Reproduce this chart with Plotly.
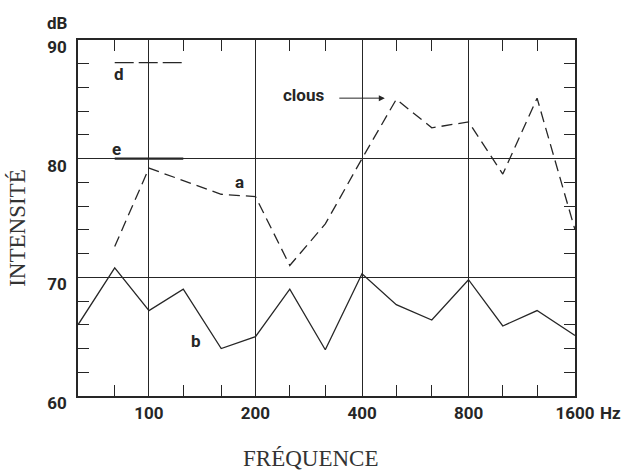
import math
import plotly.graph_objects as go

# third-octave band centre frequencies (Hz)
freq = [63, 80, 100, 125, 160, 200, 250, 315, 400, 500, 630, 800, 1000, 1250, 1600]
# curve b (solid)
curve_b = [66.0, 70.8, 67.2, 69.0, 64.0, 65.0, 69.0, 63.9, 70.3, 67.7, 66.4, 69.8, 65.9, 67.2, 65.1]
# curve a (dashed) starts at 80 Hz
freq_a = [80, 100, 160, 200, 250, 315, 400, 500, 630, 800, 1000, 1250, 1600]
curve_a = [72.6, 79.2, 77.0, 76.8, 71.0, 74.5, 80.0, 85.0, 82.6, 83.1, 78.7, 85.1, 74.0]
# key segments d (dashed) and e (solid)
key_x = [80, 125]
key_d = [88.1, 88.1]
key_e = [80.0, 80.0]

x_labels = {100: "100", 200: "200", 400: "400", 800: "800", 1600: "1600"}
grid_x = [100, 200, 400, 800]
y_ticks = list(range(60, 91, 2))
y_labels = {60: "60", 70: "70", 80: "80", 90: "90"}
grid_y = [70, 80]

INK = "#262626"
NUM_FONT = dict(family="Roboto, DejaVu Sans, sans-serif", size=17, color=INK, weight="bold")
SERIF = dict(family="Liberation Serif, DejaVu Serif, serif", size=23, color="#333333")

fig = go.Figure()
fig.add_trace(go.Scatter(x=freq, y=curve_b, mode="lines", line=dict(color=INK, width=1.3), showlegend=False))
fig.add_trace(go.Scatter(x=freq_a, y=curve_a, mode="lines",
                         line=dict(color=INK, width=1.3, dash="11px,6px"), showlegend=False))
fig.add_trace(go.Scatter(x=key_x, y=key_d, mode="lines",
                         line=dict(color=INK, width=1.3, dash="19px,5px"), showlegend=False))
fig.add_trace(go.Scatter(x=key_x, y=key_e, mode="lines", line=dict(color=INK, width=2.2), showlegend=False))

xr = [math.log10(63), math.log10(1600)]
common_x = dict(type="log", range=xr, zeroline=False)
fig.update_layout(
    width=624, height=470,
    margin=dict(l=78, r=49, t=40, b=74),
    paper_bgcolor="white", plot_bgcolor="white",
    xaxis=dict(**common_x, tickmode="array", tickvals=freq,
               ticktext=[x_labels.get(f, "") for f in freq],
               ticks="inside", ticklen=11, tickwidth=1, tickcolor=INK,
               showgrid=False, showline=True, linecolor=INK, linewidth=1.5, mirror="ticks",
               tickfont=NUM_FONT, ticklabelstandoff=1),
    xaxis2=dict(**common_x, overlaying="x", tickmode="array", tickvals=grid_x,
                showticklabels=False, ticks="", showgrid=True, gridcolor=INK, gridwidth=1,
                showline=False),
    yaxis=dict(range=[60, 90], tickmode="array", tickvals=y_ticks,
               ticktext=[y_labels.get(v, "") for v in y_ticks],
               ticks="inside", ticklen=11, tickwidth=1, tickcolor=INK,
               showgrid=False, showline=True, linecolor=INK, linewidth=1.5, mirror="ticks",
               zeroline=False, tickfont=NUM_FONT, ticklabelstandoff=6,
               ticklabelshift=7),
    yaxis2=dict(range=[60, 90], overlaying="y", tickmode="array", tickvals=grid_y,
                showticklabels=False, ticks="", showgrid=True, gridcolor=INK, gridwidth=1,
                zeroline=False, showline=False),
)
# invisible trace on the grid axes so they render
fig.add_trace(go.Scatter(x=[100], y=[70], xaxis="x2", yaxis="y2", mode="markers",
                         marker=dict(opacity=0), showlegend=False, hoverinfo="skip"))

lab = dict(family=NUM_FONT["family"], size=17, color=INK, weight="bold")
C = dict(showarrow=False, xanchor="center", yanchor="middle")
fig.add_annotation(text="dB", xref="paper", yref="paper", x=-0.042, y=1.048, font=lab, **C)
fig.add_annotation(text="Hz", xref="paper", yref="paper", x=1.072, y=-0.047, font=lab, **C)
fig.add_annotation(text="d", x=math.log10(82), y=87.1, font=lab, **C)
fig.add_annotation(text="e", x=math.log10(81), y=80.8, font=lab, **C)
fig.add_annotation(text="a", x=math.log10(180), y=78.0, font=lab, **C)
fig.add_annotation(text="b", x=math.log10(136), y=64.6, font=lab, **C)
fig.add_annotation(text="clous", x=math.log10(274), y=85.4, font=lab, **C)
fig.add_annotation(text="", x=math.log10(464), y=85.1, ax=-47, ay=0, showarrow=True,
                   arrowhead=2, arrowsize=1.2, arrowwidth=1, arrowcolor=INK)

fig.add_annotation(text="INTENSITÉ", xref="paper", yref="paper", x=-0.121, y=0.472,
                   textangle=-90, font=SERIF, **C)
fig.add_annotation(text="FRÉQUENCE", xref="paper", yref="paper", x=0.467, y=-0.175,
                   font=SERIF, **C)

fig.write_html("out.html", config={"displayModeBar": False},
               post_script="document.body.style.margin='0';document.body.style.overflow='hidden';")
